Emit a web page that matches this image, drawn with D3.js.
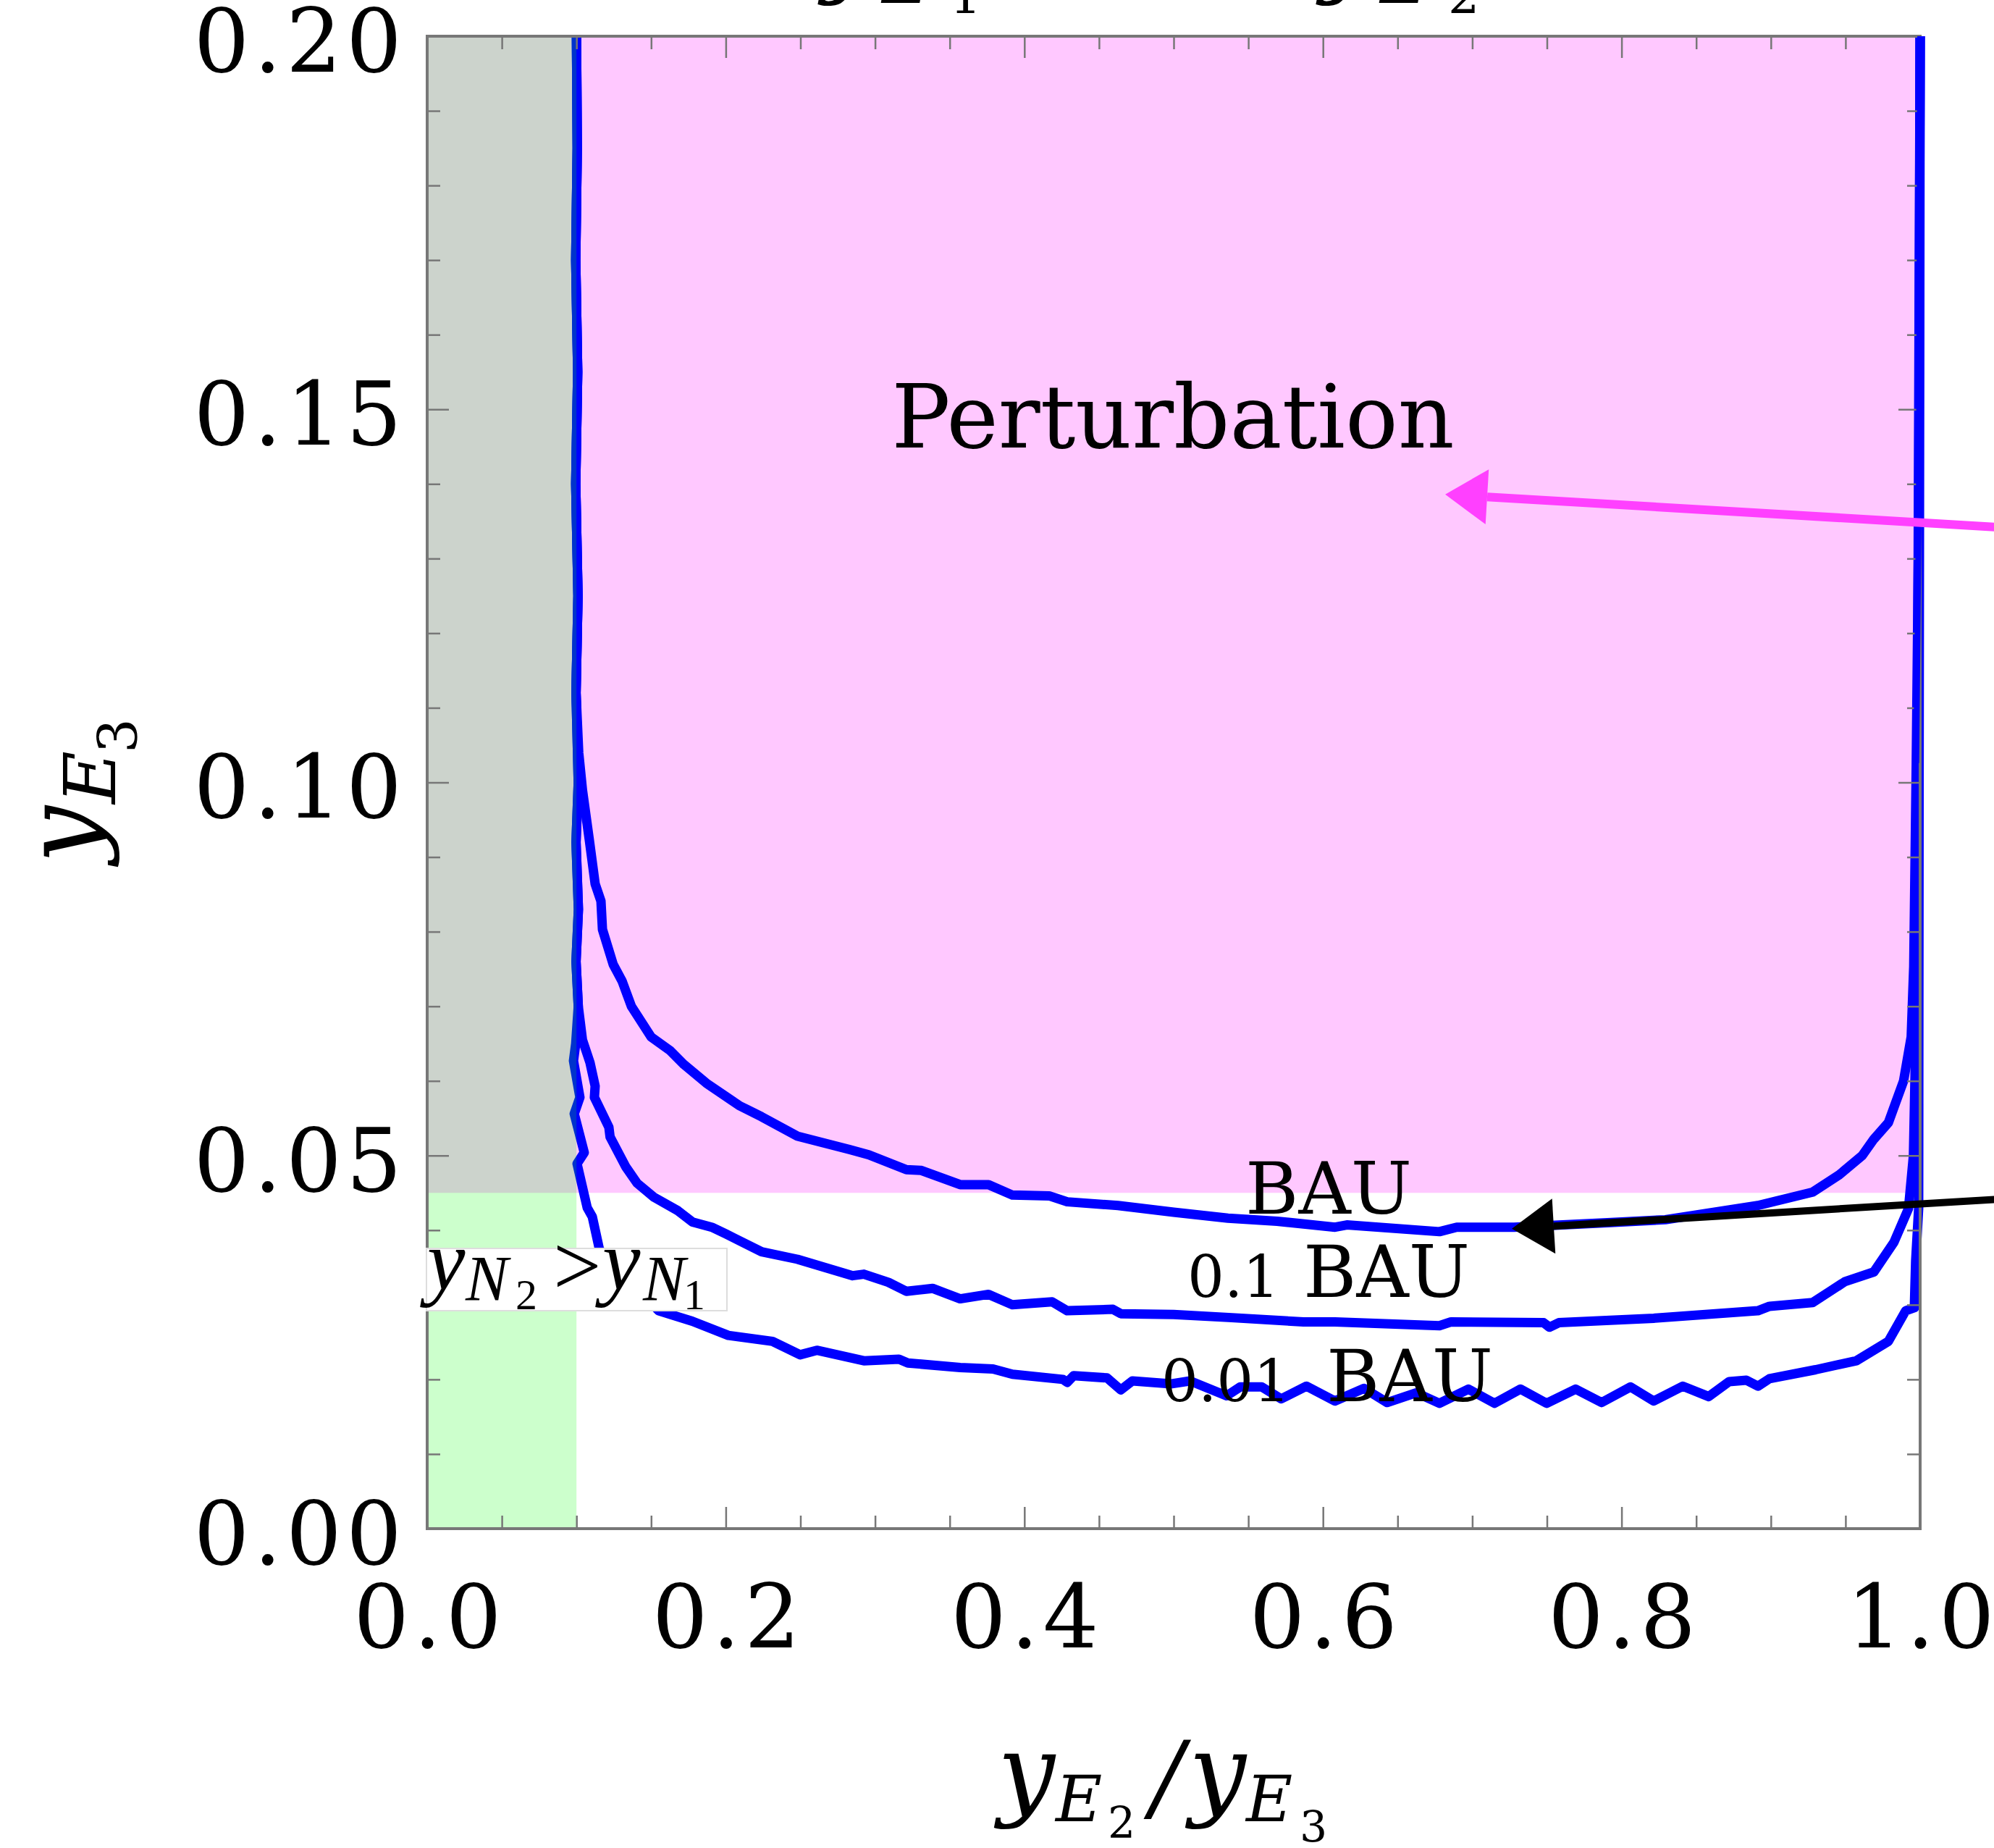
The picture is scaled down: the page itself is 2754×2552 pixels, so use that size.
<!DOCTYPE html>
<html>
<head>
<meta charset="utf-8">
<script src="https://cdn.jsdelivr.net/npm/d3@7"></script>
<style>
  html, body { margin: 0; padding: 0; background: #ffffff; }
  svg { display: block; }
</style>
</head>
<body>
<svg id="chart" width="2754" height="2552"></svg>
<script>
// ---------------- DATA ----------------
const xDomain = [0, 1];
const yDomain = [0, 0.2];
const xMajorTicks = [0, 0.2, 0.4, 0.6, 0.8, 1.0];
const xTickLabels = ["0.0", "0.2", "0.4", "0.6", "0.8", "1.0"];
const xMinorTicks = [0.05, 0.1, 0.15, 0.25, 0.3, 0.35, 0.45, 0.5, 0.55, 0.65, 0.7, 0.75, 0.85, 0.9, 0.95];
const yMajorTicks = [0, 0.05, 0.10, 0.15, 0.20];
const yTickLabels = ["0.00", "0.05", "0.10", "0.15", "0.20"];
const yMinorTicks = [0.01, 0.02, 0.03, 0.04, 0.06, 0.07, 0.08, 0.09, 0.11, 0.12, 0.13, 0.14, 0.16, 0.17, 0.18, 0.19];

// shaded regions (data units)
const perturbationRegion = { x0: 0, x1: 1, y0: 0.045, y1: 0.2 };
const nRegion = { x0: 0, x1: 0.1, y0: 0, y1: 0.2 };

// contour curves: [yE2/yE3, yE3]
const curveBAU = [[0.1,0.2],[0.1005,0.185],[0.0995,0.17],[0.1008,0.155],[0.0995,0.14],[0.101,0.125],[0.0997,0.112],[0.1015,0.104],[0.104,0.099],[0.1086,0.0923],[0.1125,0.0864],[0.1164,0.0841],[0.1174,0.0803],[0.1246,0.0756],[0.1305,0.0734],[0.1368,0.070],[0.150,0.0659],[0.1625,0.0641],[0.172,0.0622],[0.187,0.0597],[0.209,0.0567],[0.224,0.0552],[0.248,0.0526],[0.283,0.0508],[0.2958,0.0501],[0.321,0.0481],[0.331,0.048],[0.357,0.0461],[0.376,0.0461],[0.392,0.0447],[0.4166,0.0446],[0.4287,0.0438],[0.4627,0.0433],[0.5,0.0424],[0.5364,0.0416],[0.5693,0.0412],[0.6081,0.0404],[0.616,0.0407],[0.678,0.0398],[0.6896,0.0404],[0.728,0.0404],[0.7905,0.041],[0.8293,0.0414],[0.8913,0.0433],[0.928,0.0451],[0.9457,0.0474],[0.9612,0.05],[0.969,0.0522],[0.9787,0.0544],[0.9889,0.06],[0.994,0.0659],[0.9957,0.0753],[0.9974,0.1026],[0.9991,0.1366],[1.0,0.2]];
const curve01BAU = [[0.1,0.2],[0.1005,0.185],[0.0995,0.17],[0.1008,0.155],[0.0995,0.14],[0.101,0.125],[0.0997,0.112],[0.1012,0.10],[0.0997,0.092],[0.1013,0.083],[0.0997,0.076],[0.1012,0.07],[0.104,0.0655],[0.109,0.0625],[0.1125,0.0593],[0.112,0.0578],[0.1217,0.0538],[0.1225,0.0525],[0.133,0.0485],[0.1406,0.0463],[0.152,0.0444],[0.168,0.0426],[0.1776,0.0411],[0.1906,0.0404],[0.20,0.0395],[0.224,0.0371],[0.248,0.0361],[0.285,0.0339],[0.2925,0.0341],[0.309,0.033],[0.321,0.0318],[0.3385,0.0322],[0.357,0.0308],[0.376,0.0314],[0.392,0.03],[0.4186,0.0304],[0.4287,0.0292],[0.4593,0.0294],[0.4646,0.0288],[0.5,0.0287],[0.5368,0.0283],[0.587,0.0277],[0.6081,0.0277],[0.678,0.0272],[0.6857,0.0277],[0.7478,0.0276],[0.7517,0.027],[0.758,0.0276],[0.8215,0.0282],[0.8913,0.0292],[0.8991,0.0298],[0.928,0.0303],[0.9496,0.0331],[0.969,0.0344],[0.9825,0.0384],[0.9922,0.0429],[0.9955,0.05],[0.9975,0.07],[0.9985,0.12],[1.0,0.2]];
const curve001BAU = [[0.1,0.2],[0.1005,0.185],[0.0995,0.17],[0.1008,0.155],[0.0995,0.14],[0.101,0.125],[0.0997,0.112],[0.1012,0.10],[0.0997,0.092],[0.1013,0.083],[0.0997,0.076],[0.1012,0.07],[0.0995,0.065],[0.098,0.0627],[0.1023,0.0578],[0.0985,0.0556],[0.1052,0.0504],[0.1004,0.0489],[0.1072,0.043],[0.1106,0.0418],[0.1154,0.0374],[0.155,0.0292],[0.1775,0.0278],[0.2017,0.0259],[0.2313,0.0251],[0.2498,0.0233],[0.261,0.0239],[0.2925,0.0225],[0.316,0.0227],[0.322,0.0222],[0.357,0.0216],[0.379,0.0214],[0.392,0.0207],[0.4258,0.02],[0.4287,0.0196],[0.433,0.0205],[0.4554,0.0202],[0.4646,0.0186],[0.4724,0.0198],[0.498,0.0194],[0.511,0.0198],[0.5354,0.0178],[0.5446,0.019],[0.559,0.019],[0.572,0.0174],[0.589,0.0191],[0.608,0.0171],[0.6275,0.0188],[0.643,0.0169],[0.6625,0.0182],[0.678,0.0168],[0.6974,0.0187],[0.7149,0.0168],[0.7323,0.0187],[0.7498,0.0168],[0.7692,0.0187],[0.7866,0.0169],[0.806,0.019],[0.8215,0.0171],[0.841,0.0191],[0.8584,0.0177],[0.872,0.0197],[0.8836,0.0199],[0.8914,0.0191],[0.8991,0.0201],[0.930,0.0213],[0.9573,0.0225],[0.9787,0.0251],[0.9903,0.0292],[0.9961,0.0296],[0.997,0.0359],[0.999,0.0429],[0.9993,0.1],[1.0,0.2]];

// annotation arrows: [tail, tip] in data units
const arrowPerturbation = [[1.0524, 0.1342], [0.6819, 0.1386]];
const arrowBAU = [[1.0524, 0.04415], [0.7265, 0.0402]];

// ---------------- LAYOUT ----------------
const svg = d3.select("#chart");
const W = 2754, H = 2552;
const plot = { left: 590, right: 2652, top: 50, bottom: 2111 };
const x = d3.scaleLinear().domain(xDomain).range([plot.left, plot.right]);
const y = d3.scaleLinear().domain(yDomain).range([plot.bottom, plot.top]);

const NUMFONT = "'DejaVu Serif', serif";
const TXTFONT = "'DejaVu Serif', serif";
const MATHFONT = "'Liberation Serif', 'DejaVu Serif', serif";

svg.append("rect").attr("width", W).attr("height", H).attr("fill", "#ffffff");

// Perturbation (pink) region
svg.append("rect")
  .attr("x", x(perturbationRegion.x0)).attr("y", y(perturbationRegion.y1))
  .attr("width", x(perturbationRegion.x1) - x(perturbationRegion.x0))
  .attr("height", y(perturbationRegion.y0) - y(perturbationRegion.y1))
  .attr("fill", "#ffc8ff");

// contour lines
const line = d3.line().x(d => x(d[0])).y(d => y(d[1]));
const curves = [curveBAU, curve01BAU, curve001BAU];
svg.append("g").selectAll("path").data(curves).join("path")
  .attr("d", line)
  .attr("fill", "none")
  .attr("stroke", "#0000ff")
  .attr("stroke-width", 13)
  .attr("stroke-linejoin", "round")
  .attr("stroke-linecap", "butt");

// translucent green overlay (yN2 > yN1)
svg.append("rect")
  .attr("x", x(nRegion.x0)).attr("y", y(nRegion.y1))
  .attr("width", x(nRegion.x1) - x(nRegion.x0))
  .attr("height", y(nRegion.y0) - y(nRegion.y1))
  .attr("fill", "rgb(0,255,0)").attr("fill-opacity", 0.2);

// ---------------- AXES ----------------
function styleAxis(g) {
  g.select(".domain").remove();
  g.selectAll(".tick line").attr("stroke", "#777777").attr("stroke-width", 2.5);
}
const majorLen = 30, minorLen = 18;

// bottom major with labels
const gB = svg.append("g").attr("transform", `translate(0,${plot.bottom})`)
  .call(d3.axisBottom(x).tickValues(xMajorTicks).tickSize(-majorLen).tickSizeOuter(0)
    .tickPadding(78).tickFormat((d, i) => xTickLabels[i]));
styleAxis(gB);
gB.attr("font-family", NUMFONT).attr("font-size", 121);
gB.selectAll("text").attr("fill", "#000").attr("letter-spacing", 6).attr("dx", 3);
svg.append("g").attr("transform", `translate(0,${plot.bottom})`)
  .call(d3.axisBottom(x).tickValues(xMinorTicks).tickSize(-minorLen).tickFormat(""))
  .call(styleAxis);

// top (mirrored)
svg.append("g").attr("transform", `translate(0,${plot.top})`)
  .call(d3.axisTop(x).tickValues(xMajorTicks).tickSize(-majorLen).tickFormat(""))
  .call(styleAxis);
svg.append("g").attr("transform", `translate(0,${plot.top})`)
  .call(d3.axisTop(x).tickValues(xMinorTicks).tickSize(-minorLen).tickFormat(""))
  .call(styleAxis);

// left major with labels
const gL = svg.append("g").attr("transform", `translate(${plot.left},0)`)
  .call(d3.axisLeft(y).tickValues(yMajorTicks).tickSize(-majorLen).tickSizeOuter(0)
    .tickPadding(29).tickFormat((d, i) => yTickLabels[i]));
styleAxis(gL);
gL.attr("font-family", NUMFONT).attr("font-size", 121);
gL.selectAll("text").attr("fill", "#000").attr("dy", "0.40em").attr("letter-spacing", 6);
svg.append("g").attr("transform", `translate(${plot.left},0)`)
  .call(d3.axisLeft(y).tickValues(yMinorTicks).tickSize(-minorLen).tickFormat(""))
  .call(styleAxis);

// right (mirrored)
svg.append("g").attr("transform", `translate(${plot.right},0)`)
  .call(d3.axisRight(y).tickValues(yMajorTicks).tickSize(-majorLen).tickFormat(""))
  .call(styleAxis);
svg.append("g").attr("transform", `translate(${plot.right},0)`)
  .call(d3.axisRight(y).tickValues(yMinorTicks).tickSize(-minorLen).tickFormat(""))
  .call(styleAxis);

// frame
svg.append("rect")
  .attr("x", plot.left).attr("y", plot.top)
  .attr("width", plot.right - plot.left).attr("height", plot.bottom - plot.top)
  .attr("fill", "none").attr("stroke", "#777777").attr("stroke-width", 4);

// right-edge blue contour on top of frame (curves end along x = 1)
svg.append("g").selectAll("path").data([curveBAU.slice(-3)]).join("path")
  .attr("d", line).attr("fill", "none").attr("stroke", "#0000ff").attr("stroke-width", 8);

// ---------------- TEXT ----------------
// region label
svg.append("text").attr("x", 1620).attr("y", 618)
  .attr("text-anchor", "middle")
  .attr("font-family", TXTFONT).attr("font-size", 121).attr("fill", "#000")
  .text("Perturbation");

// contour labels
function contourLabel(num, numX, bauX, baseline) {
  const t = svg.append("text").attr("y", baseline).attr("font-family", TXTFONT).attr("fill", "#000");
  if (num) t.append("tspan").attr("x", numX).attr("font-size", 80).text(num);
  t.append("tspan").attr("x", bauX).attr("font-size", 100).text("BAU");
}
contourLabel(null, 0, 1720, 1676);
contourLabel("0.1", 1640, 1800, 1791);
contourLabel("0.01", 1604, 1832, 1935);

// yN2 > yN1 box
svg.append("rect").attr("x", 589).attr("y", 1724).attr("width", 415).attr("height", 86)
  .attr("fill", "#ffffff").attr("stroke", "#dddddd").attr("stroke-width", 2);
const nl = svg.append("text").attr("font-family", MATHFONT).attr("fill", "#000");
nl.append("tspan").attr("x", 590).attr("y", 1781).attr("font-size", 118).attr("font-style", "italic").text("y");
nl.append("tspan").attr("x", 643).attr("y", 1795).attr("font-size", 88).attr("font-style", "italic").text("N");
nl.append("tspan").attr("x", 712).attr("y", 1808).attr("font-size", 60).text("2");
nl.append("tspan").attr("x", 764).attr("y", 1788).attr("font-size", 118).text(">");
nl.append("tspan").attr("x", 832).attr("y", 1781).attr("font-size", 118).attr("font-style", "italic").text("y");
nl.append("tspan").attr("x", 888).attr("y", 1795).attr("font-size", 88).attr("font-style", "italic").text("N");
nl.append("tspan").attr("x", 944).attr("y", 1808).attr("font-size", 60).text("1");

// x axis label  y_{E2}/y_{E3}
const xl = svg.append("text").attr("font-family", TXTFONT).attr("fill", "#000");
xl.append("tspan").attr("x", 1378).attr("y", 2495).attr("font-size", 140).attr("font-style", "italic").text("y");
xl.append("tspan").attr("x", 1458).attr("y", 2515).attr("font-size", 88).attr("font-style", "italic").text("E");
xl.append("tspan").attr("x", 1530).attr("y", 2538).attr("font-size", 60).text("2");
xl.append("tspan").attr("x", 1590).attr("y", 2500).attr("font-size", 132).attr("font-style", "italic").text("/");
xl.append("tspan").attr("x", 1642).attr("y", 2495).attr("font-size", 140).attr("font-style", "italic").text("y");
xl.append("tspan").attr("x", 1721).attr("y", 2515).attr("font-size", 88).attr("font-style", "italic").text("E");
xl.append("tspan").attr("x", 1795).attr("y", 2544).attr("font-size", 60).text("3");

// y axis label  y_{E3} (rotated)
const yl = svg.append("text").attr("transform", "translate(134,1192) rotate(-90)")
  .attr("font-family", TXTFONT).attr("fill", "#000");
yl.append("tspan").attr("x", 0).attr("y", 0).attr("font-size", 140).attr("font-style", "italic").text("y");
yl.append("tspan").attr("x", 82).attr("y", 25).attr("font-size", 100).attr("font-style", "italic").text("E");
yl.append("tspan").attr("x", 152).attr("y", 55).attr("font-size", 75).text("3");

// title (cut off at the top edge)
function titleVar(xPos, sub) {
  const t = svg.append("text").attr("font-family", TXTFONT).attr("fill", "#000");
  t.append("tspan").attr("x", xPos).attr("y", -20).attr("font-size", 125).attr("font-style", "italic").text("y");
  t.append("tspan").attr("x", xPos + 84).attr("y", 4).attr("font-size", 90).attr("font-style", "italic").text("E");
  t.append("tspan").attr("x", xPos + 178).attr("y", 18).attr("font-size", 68).text(sub);
}
titleVar(1134, "1");
titleVar(1822, "2");

// ---------------- ARROWS ----------------
function arrow(pts, color, width) {
  const [t0, t1] = pts;
  const sx = x(t0[0]), sy = y(t0[1]), ex = x(t1[0]), ey = y(t1[1]);
  const ang = Math.atan2(ey - sy, ex - sx);
  const headLen = 58, headHalf = 38;
  const bx = ex - headLen * Math.cos(ang), by = ey - headLen * Math.sin(ang);
  svg.append("line").attr("x1", sx).attr("y1", sy).attr("x2", bx).attr("y2", by)
    .attr("stroke", color).attr("stroke-width", width);
  const px = -Math.sin(ang), py = Math.cos(ang);
  svg.append("polygon")
    .attr("points", [[ex, ey], [bx + headHalf * px, by + headHalf * py], [bx - headHalf * px, by - headHalf * py]].map(p => p.join(",")).join(" "))
    .attr("fill", color);
}
arrow(arrowPerturbation, "#ff40ff", 12);
arrow(arrowBAU, "#000000", 10);
</script>
</body>
</html>
